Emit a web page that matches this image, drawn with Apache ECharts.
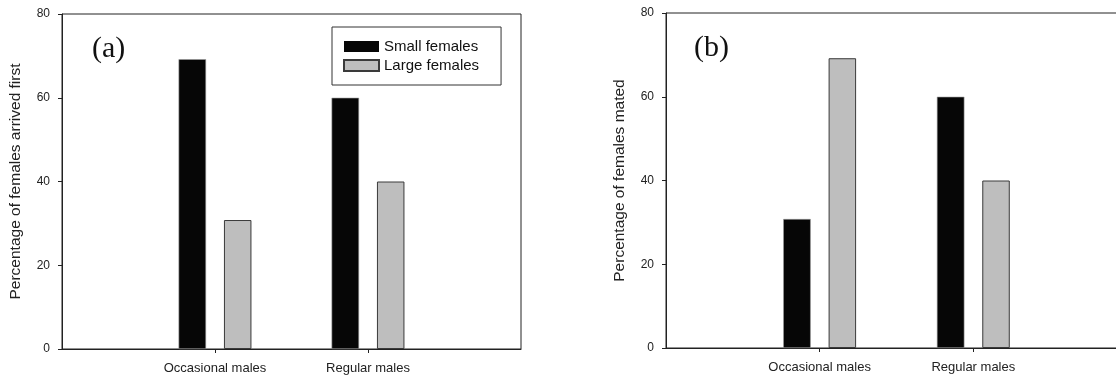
<!DOCTYPE html>
<html>
<head>
<meta charset="utf-8">
<script src="https://cdn.jsdelivr.net/npm/echarts@6/dist/echarts.min.js"></script>
<style>
  html, body { margin: 0; padding: 0; background: #fff; overflow: hidden; }
  #chart { width: 1116px; height: 379px; }
</style>
</head>
<body>
<div id="chart"></div>
<script>
// ---- data ----
const categories = ['Occasional males', 'Regular males'];
const seriesNames = ['Small females', 'Large females'];
const smallArrivedFirst = [69.2, 60];
const largeArrivedFirst = [30.8, 40];
const smallMated = [30.8, 60];
const largeMated = [69.2, 40];
const yTicks = [0, 20, 40, 60, 80];
const panelLabels = ['(a)', '(b)'];
const yTitles = ['Percentage of females arrived first', 'Percentage of females mated'];

// padded category axis: empty slots at both ends
const axisCats = [' '].concat(categories).concat(['  ']);
const pad = arr => [null].concat(arr).concat([null]);

const font = '"Liberation Sans", Arial, sans-serif';
const ink = '#222';

const smallStyle = { color: '#060606', borderColor: '#9a9a9a', borderWidth: 0.6 };
const largeStyle = { color: '#bebebe', borderColor: '#3a3a3a', borderWidth: 1 };

function xAxisFor(gridIndex) {
  return {
    type: 'category', gridIndex: gridIndex, data: axisCats, boundaryGap: false,
    axisLine: { show: true, lineStyle: { color: ink, width: 1 } },
    axisTick: { show: true, length: 4, inside: false,
      interval: (i) => i > 0 && i < axisCats.length - 1,
      lineStyle: { color: ink } },
    axisLabel: { show: true, margin: 13, fontFamily: font, fontSize: 13, color: ink,
      interval: 0 },
    splitLine: { show: false }
  };
}
function yAxisFor(gridIndex, title) {
  return {
    type: 'value', gridIndex: gridIndex, min: yTicks[0], max: yTicks[yTicks.length - 1],
    interval: yTicks[1] - yTicks[0],
    name: title, nameLocation: 'middle', nameGap: 38,
    nameTextStyle: { fontFamily: font, fontSize: 15.5, color: ink },
    axisLine: { show: true, lineStyle: { color: ink, width: 1 } },
    axisTick: { show: true, length: 4, inside: false, lineStyle: { color: ink } },
    axisLabel: { margin: 12, fontFamily: font, fontSize: 12, color: ink },
    splitLine: { show: false }
  };
}
function bar(name, data, xi, style) {
  return {
    type: 'bar', name: name, xAxisIndex: xi, yAxisIndex: xi, data: pad(data),
    barWidth: 27.5, barGap: '65%', itemStyle: style, silent: true
  };
}

const chart = echarts.init(document.getElementById('chart'), null, { renderer: 'canvas' });
chart.setOption({
  animation: false,
  backgroundColor: '#fff',
  grid: [
    { left: 62, top: 14, width: 459, height: 335, outerBoundsMode: 'none', containLabel: false,
      show: true, borderColor: ink, borderWidth: 1, backgroundColor: 'transparent' },
    { left: 666, top: 13, width: 461, height: 335, outerBoundsMode: 'none', containLabel: false,
      show: true, borderColor: ink, borderWidth: 1, backgroundColor: 'transparent' }
  ],
  xAxis: [xAxisFor(0), xAxisFor(1)],
  yAxis: [yAxisFor(0, yTitles[0]), yAxisFor(1, yTitles[1])],
  legend: {
    data: [
      { name: seriesNames[0], itemStyle: { borderWidth: 0 } },
      { name: seriesNames[1] }
    ],
    orient: 'vertical', left: 332, top: 27,
    icon: 'rect', itemWidth: 35, itemHeight: 11, itemGap: 4,
    padding: [12, 22, 12, 11],
    borderColor: '#333', borderWidth: 1, borderRadius: 0,
    textStyle: { fontFamily: font, fontSize: 15, color: '#111' },
    selectedMode: false
  },
  graphic: [
    { type: 'text', left: 92, top: 34, style: { text: panelLabels[0], font: '30px "Liberation Serif", "Times New Roman", serif', fill: '#111' } },
    { type: 'text', left: 694, top: 33, style: { text: panelLabels[1], font: '30px "Liberation Serif", "Times New Roman", serif', fill: '#111' } }
  ],
  series: [
    bar(seriesNames[0], smallArrivedFirst, 0, smallStyle),
    bar(seriesNames[1], largeArrivedFirst, 0, largeStyle),
    bar(seriesNames[0], smallMated, 1, smallStyle),
    bar(seriesNames[1], largeMated, 1, largeStyle)
  ]
});
</script>
</body>
</html>
